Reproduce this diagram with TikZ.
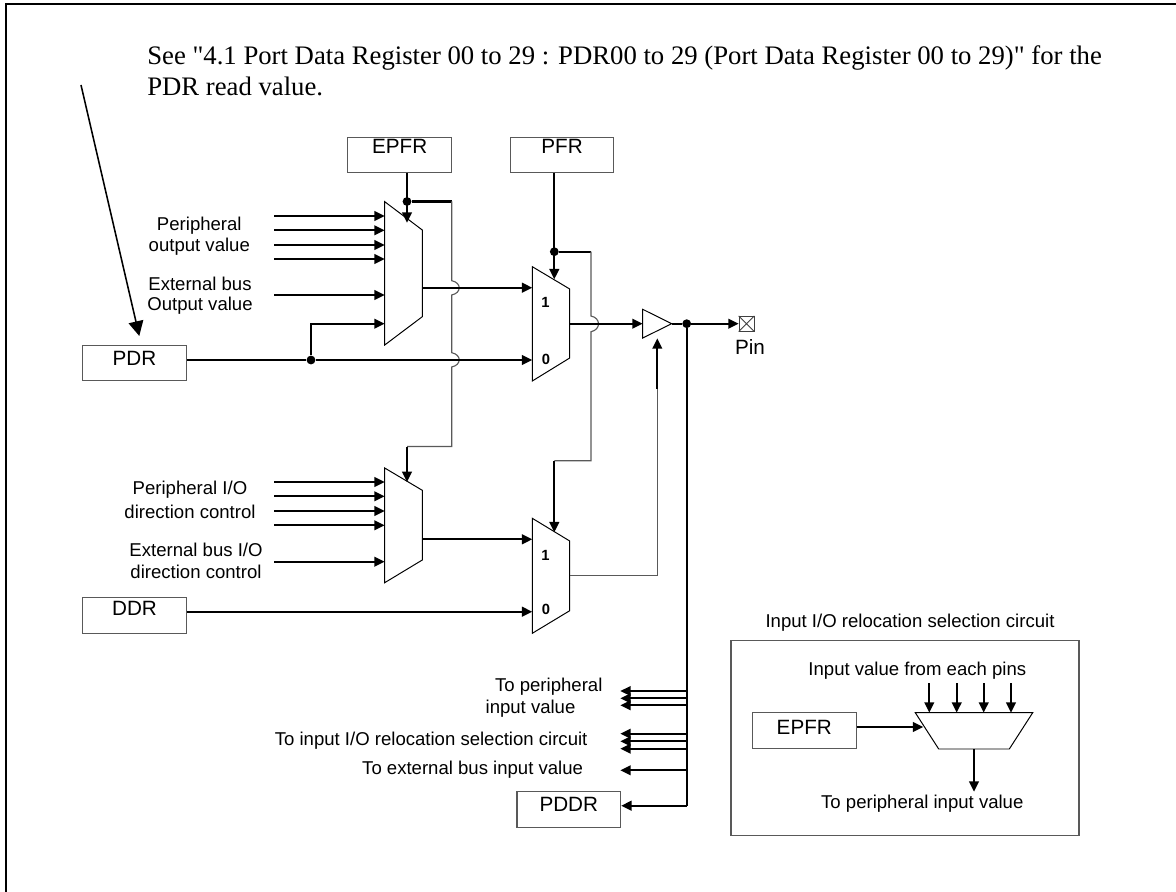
\documentclass[tikz,border=0pt]{standalone}
\usepackage{fontspec}
\setmainfont{Liberation Sans}
\newfontfamily\notefont{Liberation Serif}
\usetikzlibrary{arrows.meta}
\usetikzlibrary{positioning}

\tikzset{
  wire/.style={draw=black,line width=1.6pt,-{Triangle[length=2.6mm,width=2.4mm]}},
  bus/.style={draw=black,line width=1.6pt},
  thinwire/.style={draw=black!65,line width=0.8pt},
  muxbody/.style={draw=black,line width=0.7pt},
  regbox/.style={draw=black!65,line width=0.8pt,minimum width=2.59cm,minimum height=0.89cm,inner sep=0pt,font=\fontsize{14.7}{17}\selectfont},
  lbl/.style={font=\fontsize{13.2}{15}\selectfont,text=black,inner sep=0pt},
  muxnum/.style={font=\fontsize{10.5}{12}\selectfont\bfseries,text=black,inner sep=0pt},
  dotnode/.style={circle,fill=black,inner sep=0pt,minimum size=2.2mm},
  hop/.style={to path={.. controls +(10,2) and +(10,-2) .. (\tikztotarget)}},
}

\begin{document}
\begin{tikzpicture}[x=0.025cm,y=-0.025cm]
\useasboundingbox (0,0) rectangle (1176,892);
\coordinate (frameTL) at (6,4);
\draw[black,line width=1.3pt] (1176,4) -- (frameTL) -- (6,892);

\node[font=\fontsize{19}{22}\selectfont\notefont,anchor=west,inner sep=0pt] (noteA) at (147,58) {See "4.1 Port Data Register 00 to 29 : PDR00 to 29 (Port Data Register 00 to 29)" for the};
\node[font=\fontsize{19}{22}\selectfont\notefont,anchor=west,inner sep=0pt] (noteB) at (147,86) {PDR read value.};

% registers
\node[regbox] (epfrA) at (399.7,155) {\raisebox{4.5mm}{EPFR}};
\node[regbox] (pfr) at (562,155) {\raisebox{4.5mm}{PFR}};
\node[regbox] (pdr) at (134.5,363) {\raisebox{2.5mm}{PDR}\hspace{1.2mm}};
\node[regbox] (ddr) at (134.5,615.3) {\raisebox{3.5mm}{DDR}\hspace{1.5mm}};
\node[regbox] (pddr) at (568.8,809.7) {\raisebox{2.7mm}{PDDR}\hspace{4.4mm}};

% note arrow
\coordinate (noteTail) at (81,85);
\coordinate (noteTip) at (139.3,336);
\draw[black,line width=1.1pt,-{Triangle[length=3.7mm,width=3.7mm]}] (noteTail) -- (noteTip);

% multiplexers
\draw[muxbody] (384.7,201.7) -- (422.3,230) -- (422.3,316.7) -- (384.7,345) -- cycle;
\draw[muxbody] (532.3,266.7) -- (569.7,289) -- (569.7,358) -- (532.3,381) -- cycle;
\draw[muxbody] (384.7,468) -- (422.3,490.3) -- (422.3,560) -- (384.7,582.7) -- cycle;
\draw[muxbody] (532.3,518.3) -- (569.7,541) -- (569.7,610.7) -- (532.3,633.3) -- cycle;
\node[muxnum] (muxBone) at (545.5,302) {1};
\node[muxnum] (muxBzero) at (546,359) {0};
\node[muxnum] (muxDone) at (545.5,555) {1};
\node[muxnum] (muxDzero) at (546,609) {0};

% inputs of the two left multiplexers
\foreach \y/\n in {216/a,230.3/b,245/c,259/d,295/e}{
  \coordinate (inA\n) at (274,\y);
  \coordinate (muxA\n) at (384.7,\y);
  \draw[wire] (inA\n) -- (muxA\n);
}
\foreach \y/\n in {482/a,496.3/b,511/c,525.3/d,561.7/e}{
  \coordinate (inC\n) at (274,\y);
  \coordinate (muxC\n) at (384.7,\y);
  \draw[wire] (inC\n) -- (muxC\n);
}
\node[lbl] (lblPo) at (199.3,225.7) {Peripheral};
\node[lbl] (lblOv) at (199.3,246.7) {output value};
\node[lbl] (lblEb) at (200,284) {External bus};
\node[lbl] (lblOu) at (200,305.7) {Output value};
\node[lbl] (lblPi) at (190,490) {Peripheral I/O};
\node[lbl] (lblDc) at (190,511.7) {direction control};
\node[lbl] (lblEi) at (196,550) {External bus I/O};
\node[lbl] (lblDd) at (196,571.7) {direction control};

% select lines
\node[dotnode] (dotEpfr) at (407,201.5) {};
\node[dotnode] (dotPfr) at (554.3,251.7) {};
\draw[wire] (407,172.7) -- (407,222.7);
\draw[wire] (554.3,172.7) -- (554.3,279.3);
\coordinate (selAturn) at (451.7,201.5);
\coordinate (selBturn) at (591,251.7);
\draw[bus] (dotEpfr) -- (selAturn);
\draw[bus] (dotPfr) -- (selBturn);
\draw[thinwire] (selAturn) -- (451.7,280.7) to[hop] (451.7,295) -- (451.7,352.7) to[hop] (451.7,367) -- (451.7,446.5) -- (407,446.5);
\draw[wire] (407,446.5) -- (407,482);
\draw[thinwire] (selBturn) -- (591,316) to[hop] (591,331.7) -- (591,460.7) -- (554.3,460.7);
\draw[wire] (554.3,460.7) -- (554.3,532.3);

% data lines
\node[dotnode] (dotPdr) at (311,360) {};
\coordinate (muxBzeroIn) at (532.3,360);
\draw[bus] (pdr.east |- dotPdr) -- (dotPdr);
\draw[wire] (dotPdr) -- (muxBzeroIn);
\coordinate (muxAin) at (384.7,323.7);
\draw[wire] (dotPdr) |- (muxAin);
\coordinate (muxAout) at (422.3,287.7);
\coordinate (muxBin) at (532.3,287.7);
\draw[wire] (muxAout) -- (muxBin);
\coordinate (muxCout) at (422.3,539.3);
\coordinate (muxDin) at (532.3,539.3);
\draw[wire] (muxCout) -- (muxDin);
\coordinate (muxDzeroIn) at (532.3,611.7);
\draw[wire] (ddr.east |- muxDzeroIn) -- (muxDzeroIn);

% output buffer and pin
\coordinate (bufIn) at (642.7,323.7);
\coordinate (bufTip) at (671.7,323.7);
\draw[muxbody] (bufIn |- 0,309.3) -- (bufTip) -- (bufIn |- 0,338) -- cycle;
\coordinate (muxBout) at (569.7,323.7);
\draw[wire] (muxBout) -- (bufIn);
\node[dotnode] (dotOut) at (686.7,323.7) {};
\node[draw=black!75,line width=0.6pt,minimum size=3.7mm,inner sep=0pt,anchor=west] (pinbox) at (738.7,323.7) {};
\draw[black!75,line width=0.6pt] (pinbox.north west) -- (pinbox.south east) (pinbox.north east) -- (pinbox.south west);
\draw[bus] (bufTip) -- (dotOut);
\draw[wire] (dotOut) -- (pinbox);
\node[font=\fontsize{14.7}{17}\selectfont,inner sep=0pt] (pinlbl) at (750,346.7) {Pin};

% enable of the buffer
\coordinate (muxDout) at (569.7,575.7);
\coordinate (enTurn) at (657.3,575.7);
\coordinate (enThick) at (657.3,389);
\coordinate (enTip) at (657.3,338.3);
\draw[thinwire] (muxDout) -- (enTurn) -- (enThick);
\draw[wire] (enThick) -- (enTip);

% feedback
\coordinate (fbEnd) at (686.7,805.7);
\draw[bus] (dotOut) -- (fbEnd);
\draw[wire] (fbEnd) -- (pddr.east |- fbEnd);
\foreach \y/\n in {691/a,698.3/b,705.3/c,733.7/d,741.3/e,748.7/f,770.3/g}{
  \coordinate (fb\n) at (686.7,\y);
  \coordinate (to\n) at (620.3,\y);
  \draw[wire,line width=1.3pt] (fb\n) -- (to\n);
}
\node[lbl,anchor=east] (lblTp) at (602.7,686.7) {To peripheral};
\node[lbl,anchor=east] (lblIv) at (575.7,709) {input value};
\node[lbl,anchor=east] (lblTi) at (587.7,741) {To input I/O relocation selection circuit};
\node[lbl,anchor=east] (lblTe) at (583.3,770) {To external bus input value};

% relocation circuit
\node[draw=black!65,line width=0.8pt,minimum width=8.7cm,minimum height=4.87cm,inner sep=0pt] (relocbox) at (905,738) {};
\node[lbl] (lblReloc) at (910,622.7) {Input I/O relocation selection circuit};
\node[lbl] (lblEach) at (917.3,670.7) {Input value from each pins};
\node[regbox] (epfrB) at (804.3,730.5) {\raisebox{1.6mm}{EPFR}\hspace{1.8mm}};
\draw[muxbody] (915.3,712.7) -- (1032.7,712.7) -- (1009.3,749) -- (938.7,749) -- cycle;
\coordinate (relocIn) at (923.3,727);
\draw[wire] (epfrB.east |- relocIn) -- (relocIn);
\foreach \x/\n in {929.3/a,956.7/b,983.7/c,1011/d}{
  \coordinate (pinIn\n) at (\x,683.3);
  \coordinate (relocTop\n) at (\x,712.7);
  \draw[wire] (pinIn\n) -- (relocTop\n);
}
\coordinate (relocOut) at (974,749);
\coordinate (relocEnd) at (974,791.7);
\draw[wire] (relocOut) -- (relocEnd);
\node[lbl] (lblOutv) at (922.3,803.3) {To peripheral input value};

\end{tikzpicture}
\end{document}
